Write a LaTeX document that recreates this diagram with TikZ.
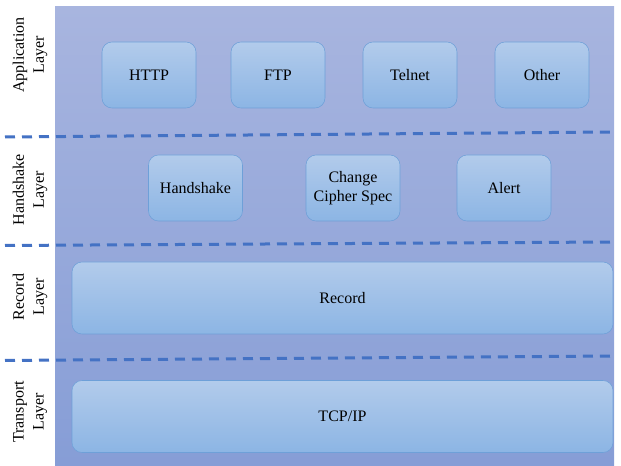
\documentclass[tikz,border=0pt]{standalone}
\usepackage{fontspec}
\setmainfont{Liberation Serif}
\usepackage{tikz}
\usetikzlibrary{positioning}

\definecolor{bgtop}{RGB}{168,181,223}
\definecolor{bgbot}{RGB}{134,157,214}
\definecolor{boxtop}{RGB}{178,203,235}
\definecolor{boxbot}{RGB}{140,181,228}
\definecolor{boxline}{RGB}{110,160,216}
\definecolor{divline}{RGB}{68,114,196}

\begin{document}
\begin{tikzpicture}[
        x=0.75pt, y=-0.75pt,
        layerbg/.style={top color=bgtop, bottom color=bgbot},
        protobox/.style={
            rectangle, rounded corners=7.5pt,
            draw=boxline, thin, top color=boxtop, bottom color=boxbot,
            minimum width=70.5pt, minimum height=49.5pt,
            align=center, font=\fontsize{12}{14.5}\selectfont
        },
        widebox/.style={protobox, minimum width=405.75pt, minimum height=54pt},
        layerlabel/.style={rotate=90, align=center, font=\fontsize{12}{15}\selectfont},
        divider/.style={draw=divline, line width=2.25pt, dash pattern=on 7.5pt off 5.25pt}
    ]
        \useasboundingbox (0,0) rectangle (621,466);

        % Background panel
        \path[layerbg] (55,7) rectangle (614,466);

        % Application layer
        \node[protobox] (http)   at (149,75)   {HTTP};
        \node[protobox] (ftp)    at (278,75)   {FTP};
        \node[protobox] (telnet) at (410,75)   {Telnet};
        \node[protobox] (other)  at (542,75)   {Other};

        % Handshake layer
        \node[protobox] (handshake) at (195.5,188) {Handshake};
        \node[protobox] (ccs)       at (353,188)   {Change\\Cipher Spec};
        \node[protobox] (alert)     at (504,188)   {Alert};

        % Record and transport layers
        \node[widebox] (record) at (342.5,298)   {Record};
        \node[widebox] (tcpip)  at (342.5,416.5) {TCP/IP};

        % Layer separators
        \draw[divider] (5,137) -- (613,132);
        \draw[divider] (5,245.5) -- (613,242);
        \draw[divider] (5,360.5) -- (613,356);

        % Layer names
        \node[layerlabel] (applbl)  at (30,55)  {Application\\Layer};
        \node[layerlabel] (hslbl)   at (30,190) {Handshake\\Layer};
        \node[layerlabel] (reclbl)  at (30,297) {Record\\Layer};
        \node[layerlabel] (tranlbl) at (30,412) {Transport\\Layer};

    \end{tikzpicture}
\end{document}
